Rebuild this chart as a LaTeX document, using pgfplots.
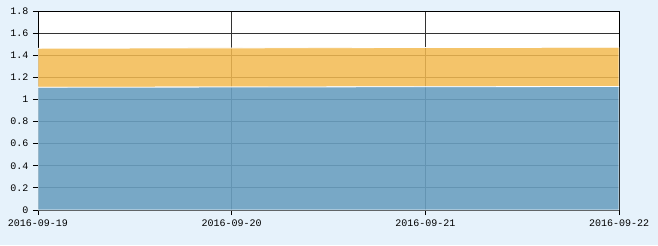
\documentclass[border=0pt]{standalone}
\usepackage{fontspec}
\setmonofont{Liberation Mono}
\usepackage{pgfplots}
\pgfplotsset{compat=1.18}
\definecolor{bgc}{HTML}{E6F2FB}
\definecolor{bluef}{HTML}{6A9FC0}
\definecolor{orangef}{HTML}{F3BA50}
\definecolor{gridc}{HTML}{333333}
\begin{document}
\begin{tikzpicture}[x=1bp,y=1bp]
\fill[bgc] (0,0) rectangle (658,245);
\begin{axis}[
  at={(38bp,35bp)}, anchor=south west,
  scale only axis, width=581bp, height=199bp,
  xmin=0, xmax=3, ymin=0, ymax=1.8,
  xtick={0,1,2,3},
  xticklabels={2016-09-19,2016-09-20,2016-09-21,2016-09-22},
  ytick={0,0.2,0.4,0.6,0.8,1,1.2,1.4,1.6,1.8},
  /pgf/number format/assume math mode=true,
  ticklabel style={font=\ttfamily\fontsize{10bp}{12bp}\selectfont, text=black},
  tick align=outside, major tick length=5bp,
  xtick pos=bottom, ytick pos=left,
  tick style={black, line width=0.8bp},
  xmajorgrids, ymajorgrids,
  grid style={gridc, line width=0.8bp},
  axis line style={black, line width=0.8bp},
  axis background/.style={fill=white},
  stack plots=y,
  yticklabel style={xshift=-1bp},
  xticklabel style={yshift=-1bp},
]
\addplot[draw=white, line width=0.8bp, fill=bluef, fill opacity=0.9] coordinates {(0,1.110) (1,1.112) (2,1.115) (3,1.117)} \closedcycle;
\addplot[draw=white, line width=0.8bp, fill=orangef, fill opacity=0.85] coordinates {(0,0.353) (1,0.354) (2,0.355) (3,0.355)} \closedcycle;
\end{axis}
\end{tikzpicture}
\end{document}
